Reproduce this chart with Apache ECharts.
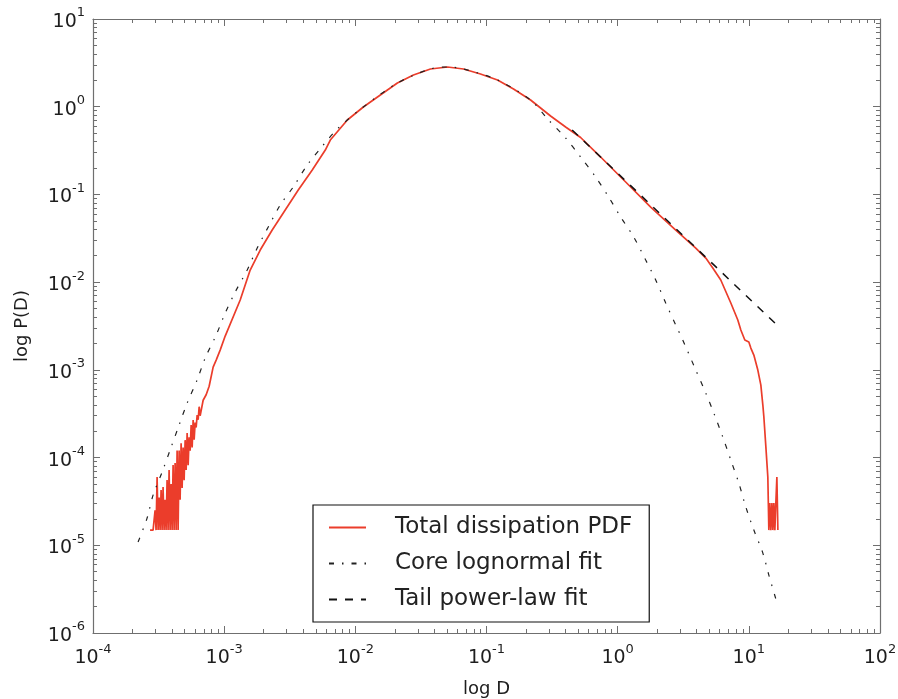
<!DOCTYPE html>
<html><head><meta charset="utf-8">
<script src="https://cdn.jsdelivr.net/npm/echarts@6/dist/echarts.min.js"></script>
<style>html,body{margin:0;padding:0;background:#fff}#c{width:898px;height:699px}</style>
</head><body><div id="c"></div>
<script>
// ---- Data (D, P(D)) ----
const redD = [2.723e-4,2.771e-4,2.820e-4,2.871e-4,2.921e-4,2.974e-4,3.026e-4,3.081e-4,3.135e-4,3.191e-4,3.247e-4,3.305e-4,3.363e-4,3.422e-4,3.483e-4,3.545e-4,3.607e-4,3.671e-4,3.736e-4,3.803e-4,3.871e-4,3.939e-4,4.009e-4,4.080e-4,4.153e-4,4.227e-4,4.302e-4,4.378e-4,4.455e-4,4.535e-4,4.615e-4,4.697e-4,4.780e-4,4.865e-4,4.952e-4,5.040e-4,5.129e-4,5.221e-4,5.313e-4,5.407e-4,5.503e-4,5.601e-4,5.700e-4,5.801e-4,5.904e-4,6.009e-4,6.115e-4,6.224e-4,6.334e-4,6.446e-4,6.560e-4,6.914e-4,7.289e-4,7.683e-4,8.24e-4,8.69e-4,9.32e-4,1.018e-3,1.325e-3,1.579e-3,1.883e-3,2.324e-3,2.921e-3,3.672e-3,4.695e-3,5.902e-3,6.445e-3,8.69e-3,0.01151,0.01551,0.02092,0.02772,0.03737,0.05038,0.06675,0.09,0.1213,0.1607,0.2168,0.308,0.401,0.5219,0.7416,1.151,1.786,2.772,3.939,4.697,5.31,6.11,7.29,8.24,8.69,9.32,10.0,10.36,10.92,11.71,12.35,12.79,13.02,13.49,13.96,14.21,14.46,14.72,15.0,15.25,15.52,15.79,16.07,16.36,16.65];
const redP = [1.49e-5,1.49e-5,1.49e-5,1.49e-5,1.49e-5,2.5e-5,1.49e-5,5.99e-5,1.49e-5,3.5e-5,1.49e-5,4.26e-5,1.49e-5,4.61e-5,1.49e-5,3.3e-5,1.49e-5,5.54e-5,1.49e-5,7.2e-5,1.49e-5,5.0e-5,1.49e-5,8.2e-5,1.49e-5,8.66e-5,1.49e-5,1.2e-4,1.49e-5,1.2e-4,3.3e-5,1.46e-4,4.5e-5,1.3e-4,5.5e-5,1.58e-4,7.2e-5,1.9e-4,8.2e-5,1.7e-4,1.2e-4,2.35e-4,1.3e-4,2.68e-4,1.6e-4,2.5e-4,2.2e-4,3.05e-4,2.7e-4,3.8e-4,3.0e-4,4.5e-4,5.2e-4,6.5e-4,1.076e-3,1.293e-3,1.68e-3,2.428e-3,6.25e-3,0.01374,0.02323,0.03926,0.06639,0.1122,0.1898,0.3209,0.4172,0.7055,0.992,1.359,1.863,2.299,2.69,2.836,2.69,2.36,2.016,1.591,1.192,0.783,0.5869,0.4456,0.267,0.1385,0.07184,0.03926,0.02447,0.01883,0.01448,0.01057,5.78e-3,3.70e-3,2.844e-3,2.187e-3,2.075e-3,1.772e-3,1.475e-3,9.95e-4,6.71e-4,3.97e-4,2.90e-4,1.317e-4,5.99e-5,1.49e-5,3.03e-5,1.49e-5,3.03e-5,1.49e-5,3.03e-5,1.49e-5,3.03e-5,5.99e-5,1.49e-5];

const lnD = [2.206e-4,2.584e-4,2.871e-4,3.363e-4,3.871e-4,4.535e-4,5.221e-4,6.22e-4,7.16e-4,8.69e-4,1.018e-3,1.213e-3,1.498e-3,1.786e-3,2.168e-3,2.676e-3,3.363e-3,4.30e-3,5.70e-3,7.42e-3,0.01151,0.02092,0.03737,0.05038,0.06675,0.1213,0.2168,0.2973,0.401,0.5219,0.6794,0.8539,1.054,1.325,1.636,1.950,2.325,2.772,3.134,3.939,4.697,5.405,6.331,7.29,8.39,9.49,10.92,12.79,14.21,16.08];
const lnP = [1.088e-5,2.04e-5,3.73e-5,6.83e-5,1.218e-4,2.348e-4,4.18e-4,7.65e-4,1.363e-3,2.493e-3,4.44e-3,7.71e-3,0.01374,0.02447,0.04249,0.0757,0.1215,0.2164,0.366,0.5716,0.992,1.863,2.69,2.836,2.69,2.016,1.192,0.7053,0.44,0.267,0.158,0.0934,0.05527,0.03268,0.01786,0.01057,5.78e-3,3.243e-3,2.19e-3,9.95e-4,5.44e-4,3.217e-4,1.713e-4,9.36e-5,5.12e-5,2.726e-5,1.491e-5,8.15e-6,4.57e-6,2.435e-6];

const plD = [0.45, 16.4];
const plP = [0.5436, 3.24e-3];

const xMajor = [1e-4,1e-3,1e-2,1e-1,1,10,100];
const yMajor = [1e-6,1e-5,1e-4,1e-3,1e-2,1e-1,1,10];
const seriesNames = ['Total dissipation PDF','Core lognormal fit','Tail power-law fit'];

function minorTicks(decades){
  const out=[];
  decades.slice(0,-1).forEach(d=>{for(let k=2;k<=9;k++) out.push(+(k*d).toPrecision(3));});
  return out;
}
const xMinor = minorTicks(xMajor);
const yMinor = minorTicks(yMajor);
const zip = (a,b)=>a.map((v,i)=>[v,b[i]]);

const FONT = 'DejaVu Sans';
const axisColor = '#6f6f6f';
const rich = {
  b:{fontFamily:FONT,fontSize:19,color:'#1e1e1e',padding:[6,0,0,0]},
  s:{fontFamily:FONT,fontSize:13,color:'#1e1e1e',verticalAlign:'top'}
};
function fmt(v){ const e=Math.round(Math.log10(v)); return '{b|10}{s|'+e+'}'; }

function mkAxis(dim, pos, major, showLabel, min, max, extra){
  const ticks = major ? (dim==='x'?xMajor:yMajor) : (dim==='x'?xMinor:yMinor);
  return Object.assign({
    type:'log', logBase:10, min:min, max:max, position:pos, gridIndex:0,
    axisLine:{show:major, onZero:false, lineStyle:{color:axisColor,width:1.2}},
    axisTick:{show:true, inside:true, length: major?7:4, customValues:ticks, lineStyle:{color:axisColor,width:1}},
    axisLabel:{show:showLabel, customValues: showLabel?ticks:undefined, formatter:fmt, rich:rich, margin: dim==='x'?10:8},
    splitLine:{show:false}, minorTick:{show:false}, silent:true
  }, extra||{});
}

const chart = echarts.init(document.getElementById('c'), null, {renderer:'canvas'});
chart.setOption({
  animation:false,
  backgroundColor:'#fff',
  grid:{left:93, right:18, top:19, bottom:66, containLabel:false, outerBoundsMode:'none'},
  xAxis:[
    mkAxis('x','bottom',true,true,1e-4,100,{name:'log D',nameLocation:'middle',nameGap:47,nameTextStyle:{fontFamily:FONT,fontSize:18,color:'#1e1e1e'}}),
    mkAxis('x','bottom',false,false,1e-4,100),
    mkAxis('x','top',true,false,1e-4,100),
    mkAxis('x','top',false,false,1e-4,100)
  ],
  yAxis:[
    mkAxis('y','left',true,true,1e-6,10,{name:'log P(D)',nameLocation:'middle',nameRotate:90,nameGap:62,nameTextStyle:{fontFamily:FONT,fontSize:18,color:'#1e1e1e'}}),
    mkAxis('y','left',false,false,1e-6,10),
    mkAxis('y','right',true,false,1e-6,10),
    mkAxis('y','right',false,false,1e-6,10)
  ],
  legend:{
    orient:'vertical', left:313, top:505,
    data:seriesNames,
    itemWidth:37, itemHeight:14, itemGap:13,
    padding:[11,17,11,15],
    borderColor:'#111', borderWidth:1.2, backgroundColor:'#fff', borderRadius:0,
    itemStyle:{opacity:0},
    textStyle:{fontFamily:FONT,fontSize:23,color:'#222',padding:[0,0,0,24]},
    selectedMode:false
  },
  series:[
    {name:seriesNames[0], type:'line', data:zip(redD,redP), showSymbol:false, symbol:'none', z:3,
     lineStyle:{color:'#eb3d2b', width:1.7}, itemStyle:{color:'#eb3d2b'}},
    {name:seriesNames[1], type:'line', data:zip(lnD,lnP), showSymbol:false, symbol:'none', z:4, smooth:0.3,
     lineStyle:{color:'#222', width:1.2, type:[5,8,1.5,8]}, itemStyle:{color:'#222'}},
    {name:seriesNames[2], type:'line', data:zip(plD,plP), showSymbol:false, symbol:'none', z:5,
     lineStyle:{color:'#111', width:1.5, type:[8,8]}, itemStyle:{color:'#111'}}
  ]
});
</script></body></html>
